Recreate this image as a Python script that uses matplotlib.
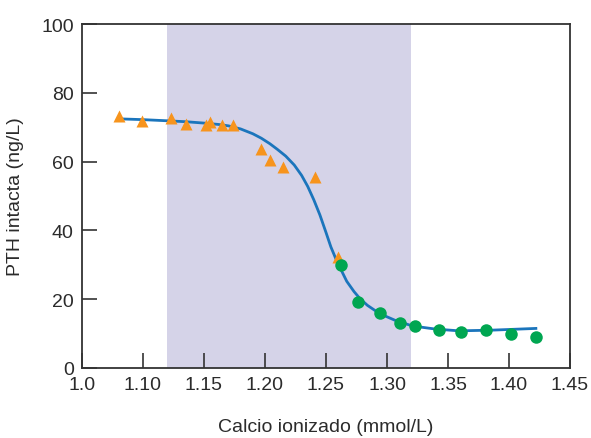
import matplotlib
matplotlib.use('Agg')
import matplotlib.pyplot as plt

plt.rcParams['font.family'] = ['Liberation Sans', 'DejaVu Sans']

# orange triangles
tri_x = [1.080, 1.099, 1.123, 1.135, 1.152, 1.155, 1.165, 1.174,
         1.197, 1.204, 1.215, 1.241, 1.260]
tri_y = [73.3, 71.7, 72.6, 70.8, 70.6, 71.4, 70.6, 70.6,
         63.7, 60.6, 58.4, 55.5, 32.2]

# green circles
dot_x = [1.262, 1.276, 1.294, 1.311, 1.323, 1.343, 1.361, 1.381, 1.402, 1.422]
dot_y = [29.9, 19.3, 16.1, 13.1, 12.2, 11.0, 10.6, 11.1, 10.0, 8.9]

# fitted curve
curve_x = [1.083, 1.100, 1.118, 1.135, 1.150, 1.162, 1.170, 1.180, 1.190,
           1.197, 1.204, 1.210, 1.217, 1.224, 1.230, 1.235, 1.240, 1.245,
           1.250, 1.254, 1.258, 1.262, 1.267, 1.273, 1.278, 1.284, 1.294,
           1.307, 1.321, 1.340, 1.359, 1.386, 1.422]
curve_y = [72.4, 72.2, 71.9, 71.6, 71.2, 70.8, 70.4, 69.5, 68.1,
           66.8, 65.2, 63.6, 61.6, 59.0, 56.0, 52.8, 48.9, 44.5,
           39.4, 35.2, 31.8, 28.8, 25.2, 22.2, 20.1, 18.2, 15.8,
           13.8, 12.2, 11.3, 10.8, 11.0, 11.5]

shade = (1.12, 1.32)

xticks = [1.05, 1.10, 1.15, 1.20, 1.25, 1.30, 1.35, 1.40, 1.45]
xlabels = ['1.0', '1.10', '1.15', '1.20', '1.25', '1.30', '1.35', '1.40', '1.45']
yticks = [0, 20, 40, 60, 80, 100]

txt = '#2b2b2b'
fig = plt.figure(figsize=(5.91, 4.39), dpi=100)
ax = fig.add_axes([0.1387, 0.1595, 0.8258, 0.7835])

ax.axvspan(shade[0], shade[1], color='#d5d3e8', lw=0, zorder=0)
ax.plot(curve_x, curve_y, color='#1b75bc', lw=2.0, zorder=2)
ax.plot(tri_x, tri_y, ls='none', marker='^', ms=9, color='#f7941d', mec='none', zorder=3)
ax.plot(dot_x, dot_y, ls='none', marker='o', ms=9, color='#00a651', mec='none', zorder=4)

ax.set_xlim(1.05, 1.45)
ax.set_ylim(0, 100)
ax.set_xticks(xticks)
ax.set_xticklabels(xlabels)
ax.set_yticks(yticks)
ax.tick_params(direction='in', length=11, width=1.2, color='#333333',
               labelsize=14, labelcolor=txt, pad=6)
for s in ax.spines.values():
    s.set_color('#333333')
    s.set_linewidth(1.3)

ax.set_xlabel('Calcio ionizado (mmol/L)', fontsize=14, color=txt, labelpad=18)
ax.set_ylabel('PTH intacta (ng/L)', fontsize=14, color=txt, labelpad=12)

fig.savefig('out.png', dpi=100)
